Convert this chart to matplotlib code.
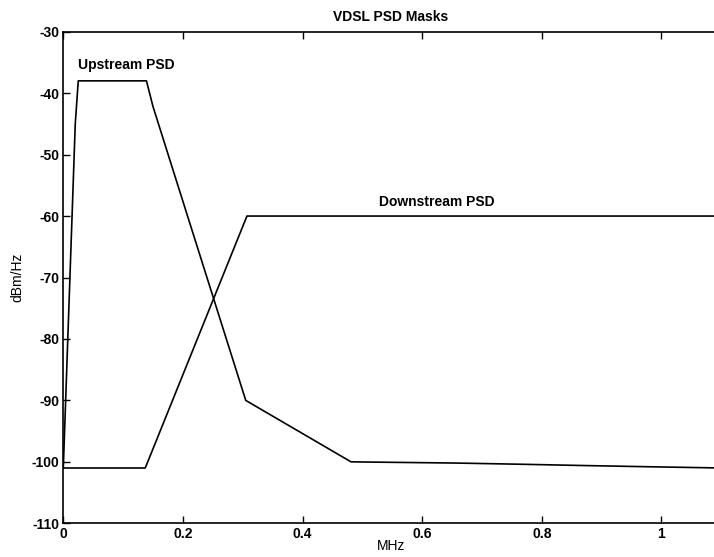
import matplotlib
matplotlib.use("Agg")
import matplotlib.pyplot as plt

# Data (MHz, dBm/Hz)
up_x = [0.0, 0.020, 0.025, 0.139, 0.150, 0.305, 0.481, 0.66, 0.77, 0.87, 0.98, 1.1]
up_y = [-101, -45, -38, -38, -42.2, -90, -100, -100.2, -100.4, -100.6, -100.8, -101]
down_x = [0.0, 0.137, 0.307, 1.1]
down_y = [-101, -101, -60, -60]

xticks = [0, 0.2, 0.4, 0.6, 0.8, 1]
xticklabels = ["0", "0.2", "0.4", "0.6", "0.8", "1"]
yticks = [-110, -100, -90, -80, -70, -60, -50, -40, -30]

plt.rcParams['font.family'] = ['Liberation Sans', 'DejaVu Sans']
plt.rcParams['axes.unicode_minus'] = False

fig = plt.figure(figsize=(7.14, 5.57), dpi=100)
ax = fig.add_axes([63.3/714, 33.7/557, (721.3-63.3)/714, (523.3-31.7)/557])

ax.plot(up_x, up_y, color='black', lw=1.2)
ax.plot(down_x, down_y, color='black', lw=1.2)

ax.set_xlim(0, 1.1)
ax.set_ylim(-110, -30)
ax.set_xticks(xticks)
ax.set_xticklabels(xticklabels)
ax.set_yticks(yticks)
ax.tick_params(direction='in', length=5, width=1, top=True, right=True,
               labelsize=10, pad=3)
for lab in ax.get_xticklabels() + ax.get_yticklabels():
    lab.set_fontweight('bold')
for s in ax.spines.values():
    s.set_linewidth(1.2)

ax.text(0.025, -35.4, "Upstream PSD", fontsize=10, fontweight='bold', va='center', ha='left')
ax.text(0.528, -57.7, "Downstream PSD", fontsize=10, fontweight='bold', va='center', ha='left')
ax.set_title("VDSL PSD Masks", fontsize=10, fontweight='bold', pad=8, x=(390.8-63.3)/(721.3-63.3))
ax.set_xlabel("MHz", fontsize=10, labelpad=-2, x=(391-63.3)/(721.3-63.3))
ax.set_ylabel("dBm/Hz", fontsize=10, labelpad=5)

fig.savefig("out.png", dpi=100)
